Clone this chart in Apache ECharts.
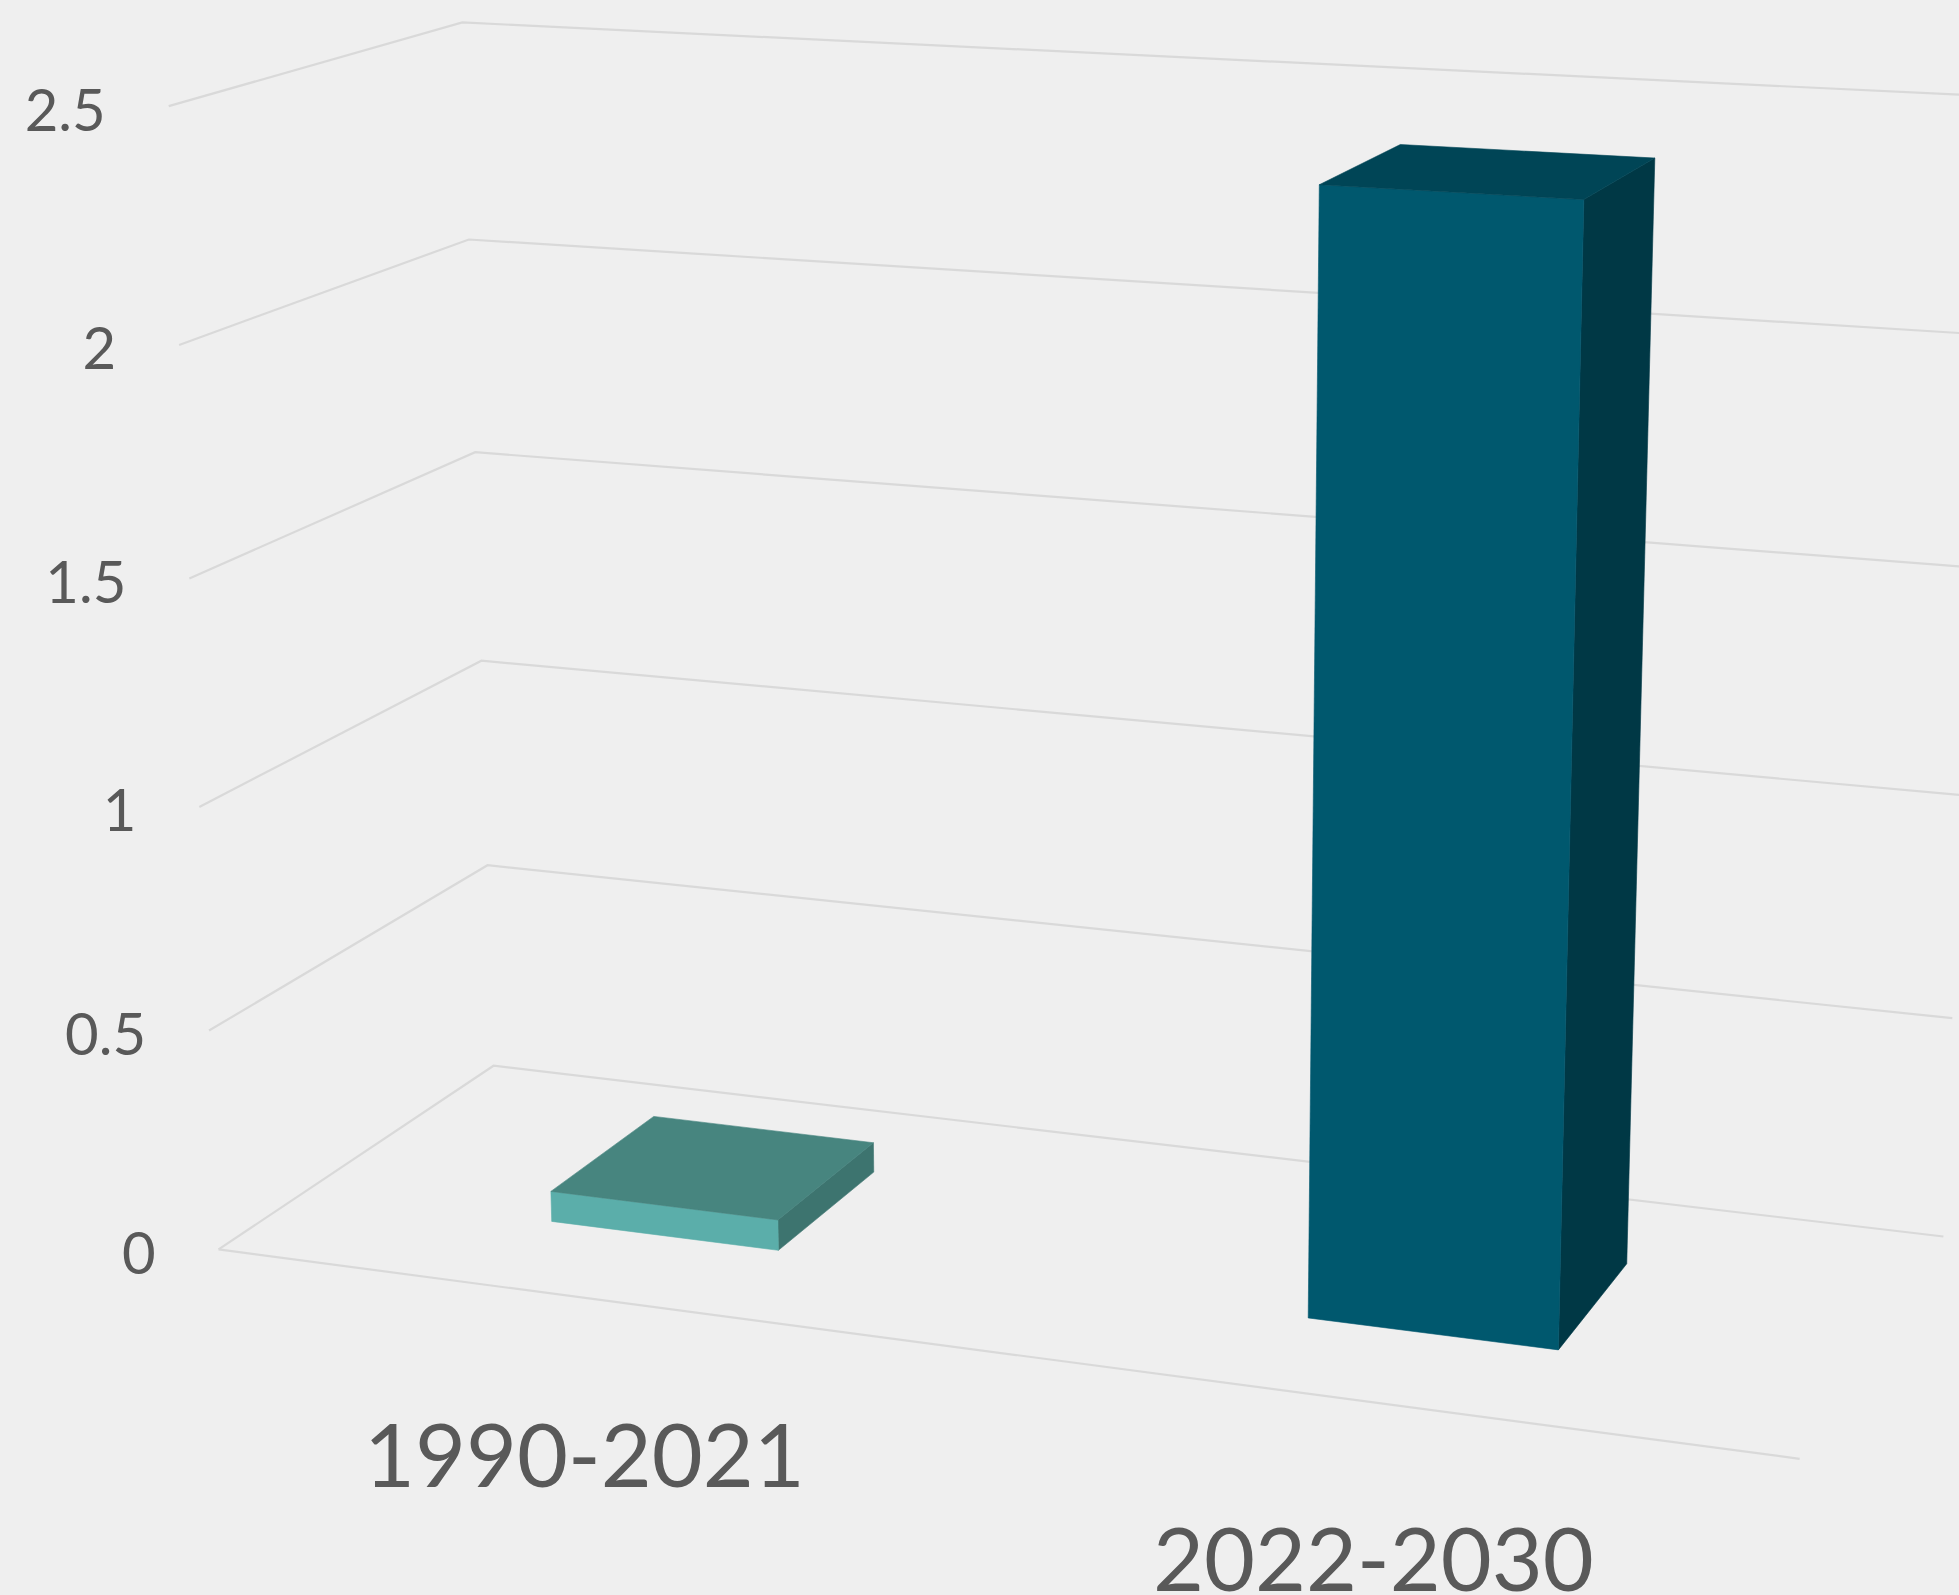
<!DOCTYPE html>
<html>
<head>
<meta charset="utf-8">
<script src="https://cdn.jsdelivr.net/npm/echarts@6/dist/echarts.min.js"></script>
<style>
  html, body { margin: 0; padding: 0; background: #efefef; }
  #chart { width: 1959px; height: 1595px; }
</style>
</head>
<body>
<div id="chart"></div>
<script>
// ---- data ----
const categories = ['1990-2021', '2022-2030'];
const values = [0.07, 2.40];
const yTicks = [0, 0.5, 1, 1.5, 2, 2.5];
const yTickLabels = ['0', '0.5', '1', '1.5', '2', '2.5'];

// ---- styles / layout ----
const barColors = [
  { front: '#5baeaa', top: '#47857f', side: '#3d746f' },
  { front: '#00586e', top: '#004556', side: '#003845' }
];
const GRID_COLOR = '#d9d9d9';
const TEXT_COLOR = '#595959';
const FONT = 'Lato, "Open Sans", sans-serif';

// perspective camera (vanishing points & scale factors, in page pixels)
const VIEW = {
  O: [218.6, 1249.4],
  VX: [-14500, -700], kx: -0.0970,
  VY: [1109, 21653],  ky: -0.05306,
  VZ: [3240, -769],   kz: 0.1001
};
const X0 = 0.0, X1 = 1.0;            // category axis span in world X
const BAR_FRAC = 0.31;               // bar width as share of category band
const Z_FRONT = 0.302, Z_BACK = 0.704;
const BACK_WALL_X = 1.0;

function proj(X, Y, Z) {
  const ax = VIEW.kx * X, by = VIEW.ky * Y, cz = VIEW.kz * Z;
  const w = 1 + ax + by + cz;
  return [
    (ax * VIEW.VX[0] + by * VIEW.VY[0] + cz * VIEW.VZ[0] + VIEW.O[0]) / w,
    (ax * VIEW.VX[1] + by * VIEW.VY[1] + cz * VIEW.VZ[1] + VIEW.O[1]) / w
  ];
}

const chart = echarts.init(document.getElementById('chart'), null, { renderer: 'svg' });

const option = {
  backgroundColor: '#efefef',
  animation: false,
  grid: { left: 200, right: 200, top: 100, bottom: 300 },
  xAxis: { type: 'category', data: categories, show: false },
  yAxis: { type: 'value', min: 0, max: 2.5, interval: 0.5, show: false },
  series: [
    {
      type: 'custom',
      name: 'walls',
      clip: false,
      silent: true,
      z: 1,
      data: yTicks.map(t => [0, t]),
      renderItem: function (params, api) {
        const cs = params.coordSys;
        const val = api.value(1);
        const c = api.coord([0, val]);
        const Y = (cs.y + cs.height - c[1]) / cs.height;
        const a = proj(0, Y, 0), b = proj(0, Y, 1), d = proj(BACK_WALL_X, Y, 1);
        const children = [
          { type: 'polyline', shape: { points: [a, b, d] },
            style: { stroke: GRID_COLOR, lineWidth: 2.2, fill: null } },
          { type: 'text',
            style: { text: yTickLabels[params.dataIndex], x: a[0] - 63, y: a[1] + 2,
                     fill: TEXT_COLOR, font: '58px ' + FONT,
                     align: 'right', verticalAlign: 'middle' } }
        ];
        if (val === 0) {
          children.push({ type: 'polyline', shape: { points: [proj(0, 0, 0), proj(1, 0, 0)] },
            style: { stroke: GRID_COLOR, lineWidth: 2.2, fill: null } });
        }
        return { type: 'group', children: children };
      }
    },
    {
      type: 'custom',
      name: 'bars',
      clip: false,
      z: 2,
      data: values.map((v, i) => [i, v]),
      renderItem: function (params, api) {
        const cs = params.coordSys;
        const top = api.coord([api.value(0), api.value(1)]);
        const base = api.coord([api.value(0), 0]);
        const band = api.size([1, 0])[0];
        const Xc = X0 + (top[0] - cs.x) / cs.width * (X1 - X0);
        const hw = band / cs.width * (X1 - X0) * BAR_FRAC / 2;
        const Yt = (cs.y + cs.height - top[1]) / cs.height;
        const Yb = (cs.y + cs.height - base[1]) / cs.height;
        const xa = Xc - hw, xb = Xc + hw;
        const col = barColors[params.dataIndex];
        const front = [proj(xa, Yb, Z_FRONT), proj(xb, Yb, Z_FRONT), proj(xb, Yt, Z_FRONT), proj(xa, Yt, Z_FRONT)];
        const side = [proj(xb, Yb, Z_FRONT), proj(xb, Yb, Z_BACK), proj(xb, Yt, Z_BACK), proj(xb, Yt, Z_FRONT)];
        const topF = [proj(xa, Yt, Z_FRONT), proj(xb, Yt, Z_FRONT), proj(xb, Yt, Z_BACK), proj(xa, Yt, Z_BACK)];
        const lab = proj(Xc, 0, 0);
        return {
          type: 'group',
          children: [
            { type: 'polygon', shape: { points: side }, style: { fill: col.side, stroke: col.side, lineWidth: 0.6 } },
            { type: 'polygon', shape: { points: front }, style: { fill: col.front, stroke: col.front, lineWidth: 0.6 } },
            { type: 'polygon', shape: { points: topF }, style: { fill: col.top, stroke: col.top, lineWidth: 0.6 } },
            { type: 'text',
              style: { text: categories[params.dataIndex], x: lab[0], y: lab[1] + 155,
                       fill: TEXT_COLOR, font: '88px ' + FONT,
                       align: 'center', verticalAlign: 'middle' } }
          ]
        };
      }
    }
  ]
};
chart.setOption(option);
</script>
</body>
</html>
